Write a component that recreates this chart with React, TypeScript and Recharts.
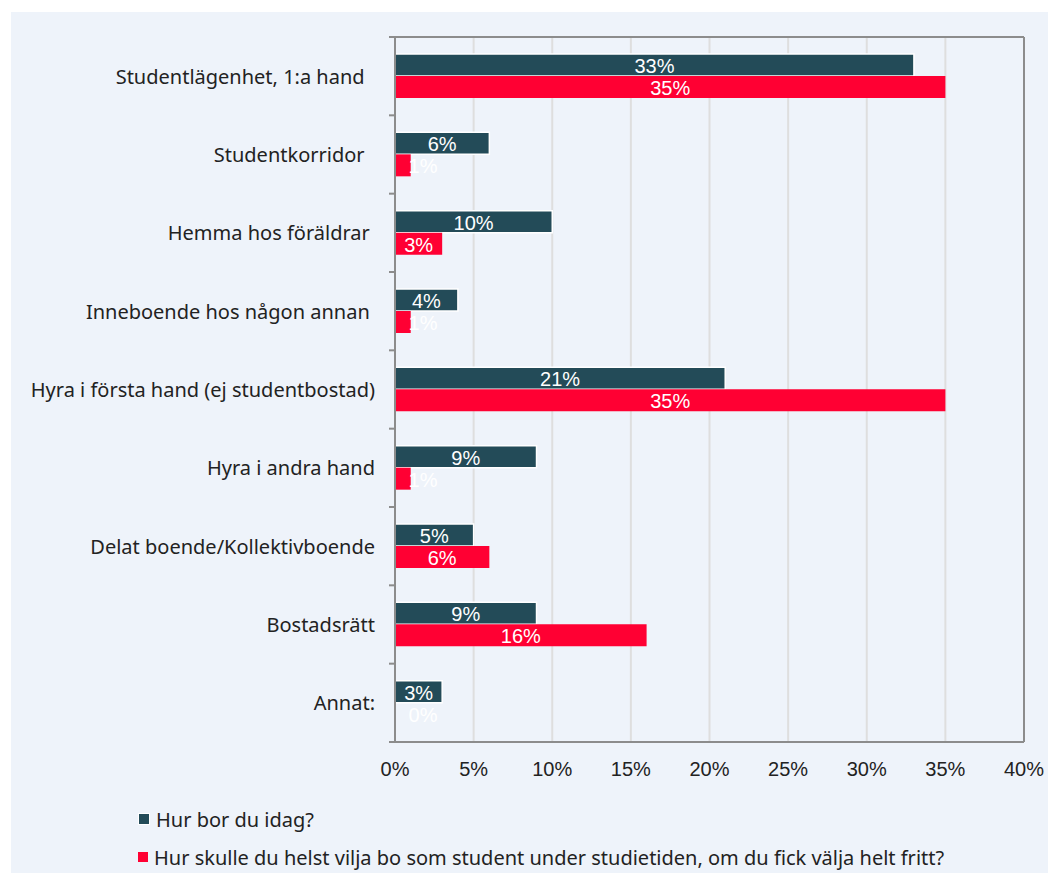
import React from 'react';
import {
  BarChart,
  Bar,
  XAxis,
  YAxis,
  CartesianGrid,
  ReferenceLine,
  LabelList,
} from 'recharts';

const categories = [
  'Studentlägenhet, 1:a hand  ',
  'Studentkorridor  ',
  'Hemma hos föräldrar ',
  'Inneboende hos någon annan ',
  'Hyra i första hand (ej studentbostad)',
  'Hyra i andra hand',
  'Delat boende/Kollektivboende',
  'Bostadsrätt',
  'Annat:',
];
const idag = [33, 6, 10, 4, 21, 9, 5, 9, 3];
const helst = [35, 1, 3, 1, 35, 1, 6, 16, 0];
const xTicks = [0, 5, 10, 15, 20, 25, 30, 35, 40];

const seriesNames = [
  'Hur bor du idag?',
  'Hur skulle du helst vilja bo som student under studietiden, om du fick välja helt fritt?',
];

const DARK = '#234b58';
const RED = '#ff0033';
const BG = '#eef3fa';
const AXIS = '#8c8c8c';
const FONT = "'Noto Sans', sans-serif";

const data = categories.map((name, i) => ({ name, idag: idag[i], helst: helst[i] }));

// chart geometry
const W = 1045;
const H = 790;
const Y_AXIS_W = 384;
const TOP_H = 25;
const BOTTOM_H = 60;
const PLOT_H = H - TOP_H - BOTTOM_H;
const BAND = PLOT_H / categories.length;

const CategoryTick = (props: any) => {
  const { y, payload, index } = props;
  const axisX = Y_AXIS_W;
  return (
    <g>
      <text
        x={axisX - 20}
        y={y}
        textAnchor="end"
        dominantBaseline="central"
        fontFamily={FONT}
        fontSize={20}
        fill="#222"
        style={{ whiteSpace: 'pre' }}
      >
        {payload.value}
      </text>
      <line x1={axisX - 6} x2={axisX} y1={y - BAND / 2} y2={y - BAND / 2} stroke={AXIS} strokeWidth={2} />
      {index === categories.length - 1 && (
        <line x1={axisX - 6} x2={axisX} y1={y + BAND / 2} y2={y + BAND / 2} stroke={AXIS} strokeWidth={2} />
      )}
    </g>
  );
};

const BarLabel = (props: any) => {
  const { x, y, width, height, value } = props;
  const cx = width < 30 ? x + 28 : x + width / 2;
  return (
    <text
      x={cx}
      y={y + height / 2 + 1}
      textAnchor="middle"
      dominantBaseline="central"
      fill="#fff"
      fontFamily="'Liberation Sans', Arial, sans-serif"
      fontSize={20}
    >
      {value}%
    </text>
  );
};

const LegendItem = ({ color, label }: { color: string; label: string }) => (
  <div style={{ display: 'flex', alignItems: 'center', height: 38 }}>
    <span
      style={{
        width: 10,
        height: 10,
        background: color,
        display: 'inline-block',
        marginRight: 6,
        border: color === DARK ? '1px solid #fff' : 'none',
      }}
    />
    <span style={{ fontFamily: FONT, fontSize: 20, color: '#222' }}>{label}</span>
  </div>
);

export default function App() {
  return (
    <div
      style={{
        position: 'relative',
        left: 3,
        top: 4,
        width: W,
        height: 865,
        background: BG,
      }}
    >
      <BarChart
        width={W}
        height={H}
        data={data}
        layout="vertical"
        margin={{ top: 0, right: 32, bottom: 0, left: 0 }}
        barGap={0}
        barSize={22}
      >
        <CartesianGrid horizontal={false} stroke="#dedede" strokeWidth={2} />
        <XAxis
          type="number"
          domain={[0, 40]}
          ticks={xTicks}
          tickFormatter={(v) => `${v}%`}
          axisLine={{ stroke: AXIS, strokeWidth: 2 }}
          tickLine={false}
          tickMargin={14}
          height={BOTTOM_H}
          tick={{ fill: '#222', fontSize: 20, fontFamily: "'Liberation Sans Narrow', 'Arial Narrow', Arial, sans-serif" }}
        />
        <XAxis
          xAxisId="top"
          orientation="top"
          type="number"
          domain={[0, 40]}
          ticks={xTicks}
          tickFormatter={() => ''}
          axisLine={{ stroke: AXIS, strokeWidth: 2 }}
          tickLine={{ stroke: AXIS, strokeWidth: 2 }}
          tickSize={6}
          height={TOP_H}
        />
        <YAxis
          type="category"
          dataKey="name"
          width={Y_AXIS_W}
          axisLine={{ stroke: AXIS, strokeWidth: 2 }}
          tickLine={false}
          tick={<CategoryTick />}
          interval={0}
        />
        <ReferenceLine x={40} stroke={AXIS} strokeWidth={2} />
        <Bar dataKey="idag" name={seriesNames[0]} fill={DARK} stroke="#fff" strokeWidth={1.5} isAnimationActive={false}>
          <LabelList dataKey="idag" content={<BarLabel />} />
        </Bar>
        <Bar dataKey="helst" name={seriesNames[1]} fill={RED} minPointSize={0.01} isAnimationActive={false}>
          <LabelList dataKey="helst" content={<BarLabel />} />
        </Bar>
      </BarChart>
      <div style={{ position: 'absolute', left: 127, top: 788 }}>
        <LegendItem color={DARK} label={seriesNames[0]} />
        <LegendItem color={RED} label={seriesNames[1]} />
      </div>
    </div>
  );
}
